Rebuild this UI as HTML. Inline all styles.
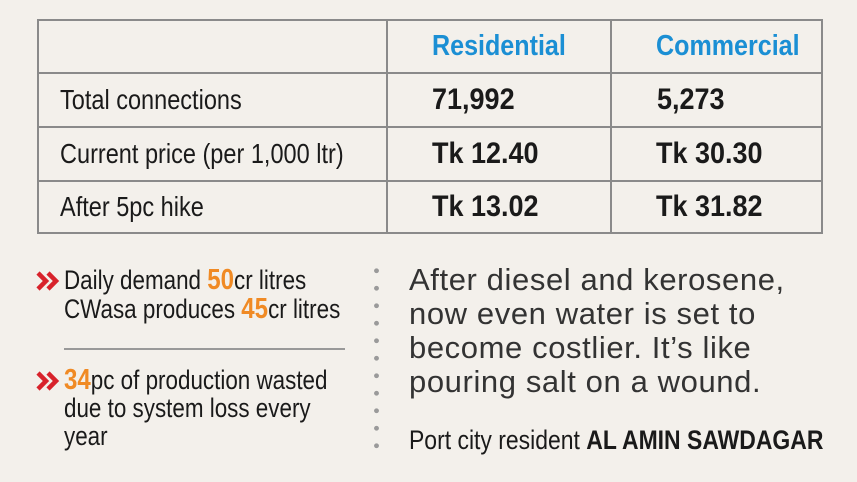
<!DOCTYPE html>
<html><head><meta charset="utf-8"><style>
body{margin:0;width:857px;height:482px;background:#f3f0eb;position:relative;overflow:hidden;font-family:"Liberation Sans",sans-serif;color:#1a1a1a}
.t{position:absolute;white-space:nowrap;transform-origin:0 0}
.hl{position:absolute;background:#8a8a8a;height:2px}
.vl{position:absolute;background:#8a8a8a;width:2px}
.h{color:#1b8fd4;font-weight:bold;font-size:29px;transform:scaleX(0.865)}
.v{font-weight:bold;font-size:30px;transform:scaleX(0.9)}
.l{font-size:28px;transform:scaleX(0.84)}
.o{color:#f08a24;font-weight:bold}
.b{font-size:27px;line-height:29px;transform:scaleX(0.83)}
.q{font-size:31px;color:#333;line-height:34px;letter-spacing:0.6px}
svg{position:absolute}
</style></head><body>
<div class="hl" style="left:37px;top:19px;width:786px"></div>
<div class="hl" style="left:37px;top:72px;width:786px"></div>
<div class="hl" style="left:37px;top:126px;width:786px"></div>
<div class="hl" style="left:37px;top:180px;width:786px"></div>
<div class="hl" style="left:37px;top:232px;width:786px"></div>
<div class="vl" style="left:37px;top:19px;height:215px"></div>
<div class="vl" style="left:386px;top:19px;height:215px"></div>
<div class="vl" style="left:610px;top:19px;height:215px"></div>
<div class="vl" style="left:821px;top:19px;height:215px"></div>

<div class="t h" style="left:432px;top:30px">Residential</div>
<div class="t h" style="left:656px;top:30px">Commercial</div>
<div class="t l" style="left:60px;top:84px">Total connections</div>
<div class="t v" style="left:432px;top:83px">71,992</div>
<div class="t v" style="left:657px;top:83px">5,273</div>
<div class="t l" style="left:60px;top:138px">Current price (per 1,000 ltr)</div>
<div class="t v" style="left:432px;top:137px">Tk 12.40</div>
<div class="t v" style="left:656px;top:137px">Tk 30.30</div>
<div class="t l" style="left:60px;top:191px">After 5pc hike</div>
<div class="t v" style="left:432px;top:190px">Tk 13.02</div>
<div class="t v" style="left:656px;top:190px">Tk 31.82</div>

<svg style="left:36px;top:270px" width="24" height="22"><polyline points="2,3 10,11 2,19" fill="none" stroke="#d8222b" stroke-width="4.5"/><polyline points="12,3 20,11 12,19" fill="none" stroke="#d8222b" stroke-width="4.5"/></svg>
<div class="t b" style="left:64px;top:266px">Daily demand <span class="o" style="font-size:29px">50</span>cr litres<br>CWasa produces <span class="o" style="font-size:29px">45</span>cr litres</div>
<div class="hl" style="left:64px;top:348px;width:281px;background:#999"></div>
<svg style="left:36px;top:370px" width="24" height="22"><polyline points="2,3 10,11 2,19" fill="none" stroke="#d8222b" stroke-width="4.5"/><polyline points="12,3 20,11 12,19" fill="none" stroke="#d8222b" stroke-width="4.5"/></svg>
<div class="t b" style="left:64px;top:366px;line-height:28px"><span class="o" style="font-size:29px">34</span>pc of production wasted<br>due to system loss every<br>year</div>

<div style="position:absolute;left:374px;top:262px;width:5px;height:196px;background:radial-gradient(circle,#9a9a9a 2.2px,transparent 2.6px) 0 0/5px 17.5px repeat-y"></div>

<div class="t q" style="left:409px;top:263px">After diesel and kerosene,<br>now even water is set to<br>become costlier. It’s like<br>pouring salt on a wound.</div>
<div class="t" style="left:409px;top:425px;font-size:27px;transform:scaleX(0.85)">Port city resident <b>AL AMIN SAWDAGAR</b></div>
</body></html>
